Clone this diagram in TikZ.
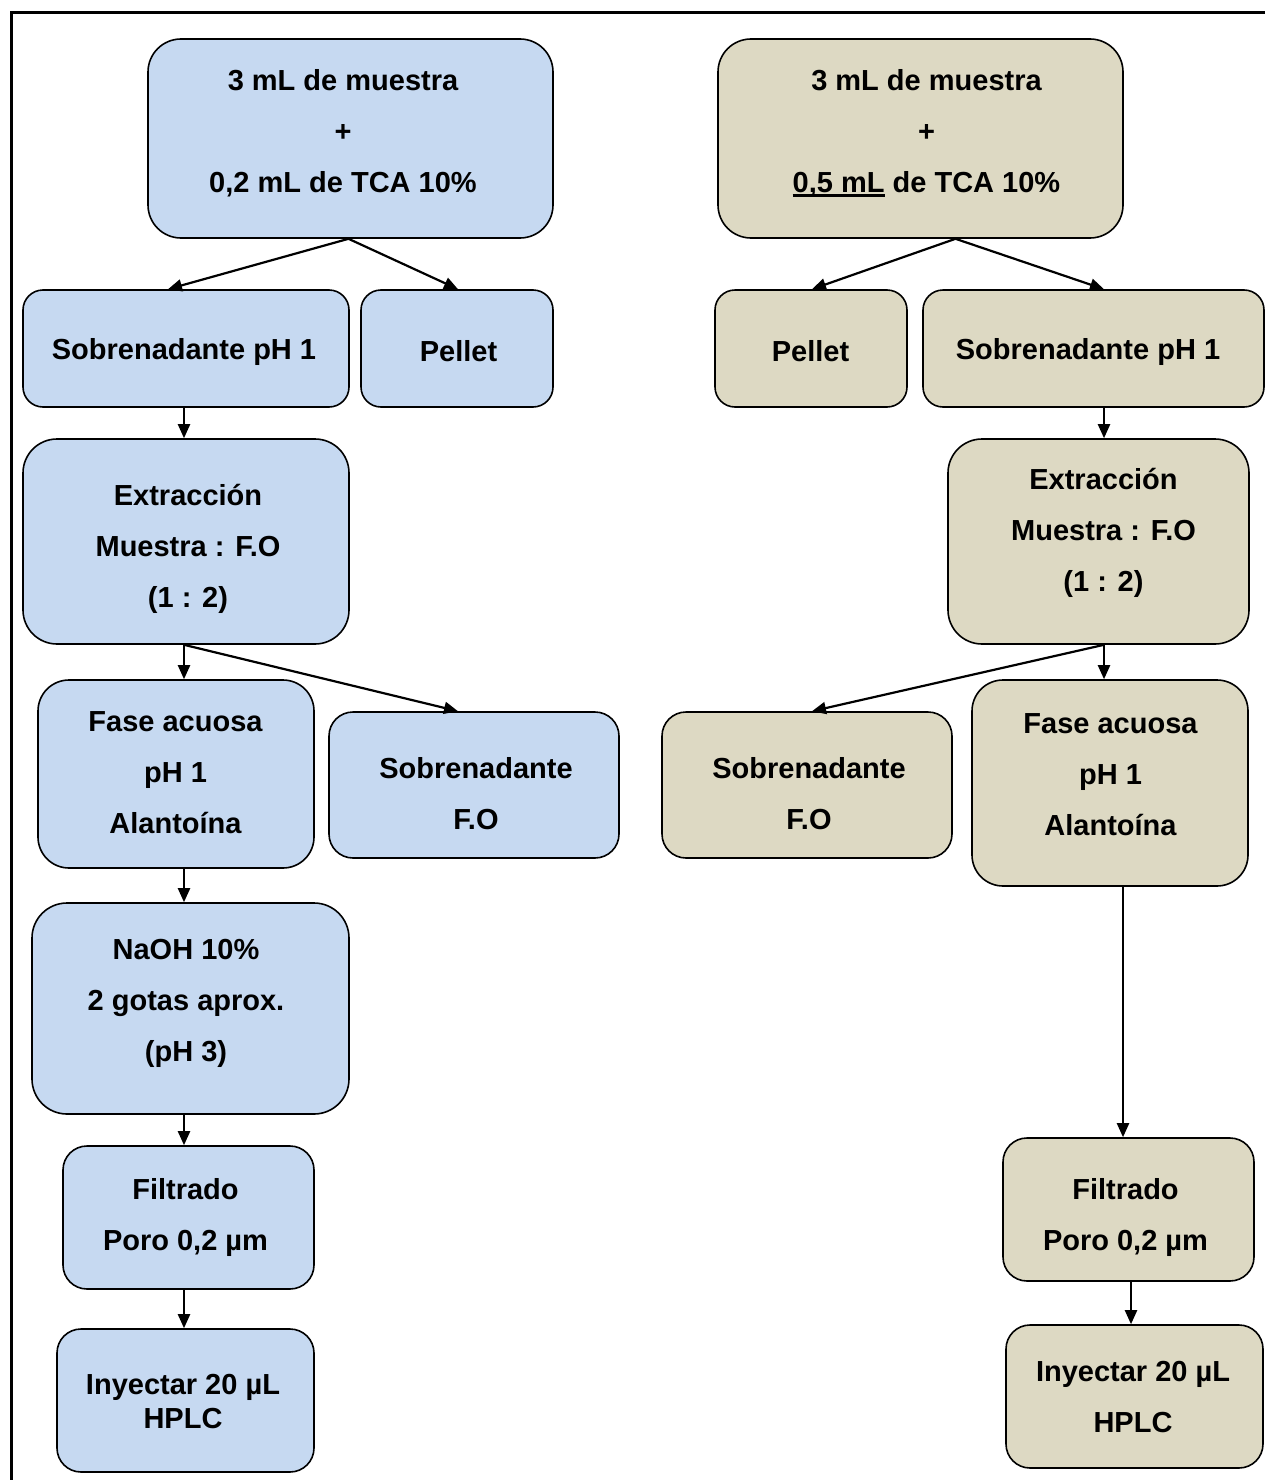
\documentclass[tikz,border=0pt]{standalone}
\usepackage{fontspec}
\setmainfont{Liberation Sans}
\usetikzlibrary{arrows.meta}
\definecolor{bluefill}{HTML}{C6D9F1}
\definecolor{tanfill}{HTML}{DDD9C3}
\newcommand\myul[1]{\setbox0\hbox{#1}\rlap{\rule[-5pt]{\wd0}{2.6pt}}\box0{}}
\tikzset{
  flowbox/.style={draw=black, line width=1.6pt, rounded corners=#1, inner sep=0pt},
  bluebox/.style={flowbox=#1, fill=bluefill},
  tanbox/.style={flowbox=#1, fill=tanfill},
  txt/.style={align=center, inner sep=0pt, font=\fontsize{29}{51}\selectfont\bfseries},
  conn/.style={line width=2.2pt, -{Triangle[length=14pt,width=12pt]}},
}
\begin{document}
\begin{tikzpicture}[x=1pt,y=-1pt]
\useasboundingbox (0,0) rectangle (1265,1480);
\draw[line width=3pt] (11.5,1490) -- (11.5,12.5) -- (1275,12.5);
% left column boxes
\node[bluebox=33pt, minimum width=405pt, minimum height=199pt] (b1) at (350.5,138.5) {};
\node[bluebox=20pt, minimum width=326pt, minimum height=117pt] (b2) at (186,348.5) {};
\node[bluebox=20pt, minimum width=192pt, minimum height=117pt] (b3) at (457,348.5) {};
\node[bluebox=34pt, minimum width=326pt, minimum height=205pt] (b4) at (186,541.5) {};
\node[bluebox=31pt, minimum width=276pt, minimum height=188pt] (b5) at (176,774) {};
\node[bluebox=24pt, minimum width=290pt, minimum height=146pt] (b6) at (474,785) {};
\node[bluebox=35pt, minimum width=317pt, minimum height=211pt] (b7) at (190.5,1008.5) {};
\node[bluebox=24pt, minimum width=251pt, minimum height=143pt] (b8) at (188.5,1217.5) {};
\node[bluebox=24pt, minimum width=257pt, minimum height=143pt] (b9) at (185.5,1400.5) {};
% right column boxes
\node[tanbox=33pt, minimum width=405pt, minimum height=199pt] (t1) at (920.5,138.5) {};
\node[tanbox=20pt, minimum width=192pt, minimum height=117pt] (t2) at (811,348.5) {};
\node[tanbox=20pt, minimum width=341pt, minimum height=117pt] (t3) at (1093.5,348.5) {};
\node[tanbox=34pt, minimum width=301pt, minimum height=205pt] (t4) at (1098.5,541.5) {};
\node[tanbox=24pt, minimum width=290pt, minimum height=146pt] (t5) at (807,785) {};
\node[tanbox=31pt, minimum width=276pt, minimum height=206pt] (t6) at (1110,783) {};
\node[tanbox=24pt, minimum width=251pt, minimum height=143pt] (t7) at (1128.5,1209.5) {};
\node[tanbox=24pt, minimum width=257pt, minimum height=143pt] (t8) at (1134.5,1396.5) {};
% texts
\node[txt] (b1t) at (343,133) {3 mL de muestra\\+\\0,2 mL de TCA 10\%};
\node[txt] (b2t) at (184,351.5) {Sobrenadante pH 1};
\node[txt] (b3t) at (458.5,351.5) {Pellet};
\node[txt] (b4t) at (188,548.5) {Extracción\\Muestra : F.O\\(1 : 2)};
\node[txt] (b5t) at (175.5,772.5) {Fase acuosa\\pH 1\\Alantoína};
\node[txt] (b6t) at (476,794) {Sobrenadante\\F.O};
\node[txt] (b7t) at (186,1003.5) {NaOH 10\%\\2 gotas aprox.\\(pH 3)};
\node[txt] (b8t) at (185.5,1217.5) {Filtrado\\Poro 0,2 µm};
\node[txt] (b9t) at (183,1401.5) {Inyectar 20 µL\\[-17pt]HPLC};
\node[txt] (t1t) at (926.5,133) {3 mL de muestra\\+\\\myul{0,5 mL} de TCA 10\%};
\node[txt] (t2t) at (810.5,351.5) {Pellet};
\node[txt] (t3t) at (1088,351.5) {Sobrenadante pH 1};
\node[txt] (t4t) at (1103.5,533) {Extracción\\Muestra : F.O\\(1 : 2)};
\node[txt] (t5t) at (809,794) {Sobrenadante\\F.O};
\node[txt] (t6t) at (1110.5,775) {Fase acuosa\\pH 1\\Alantoína};
\node[txt] (t7t) at (1125.5,1217.5) {Filtrado\\Poro 0,2 µm};
\node[txt] (t8t) at (1133,1397) {Inyectar 20 µL\\HPLC};
% left connectors
\draw[conn] ([xshift=-2pt]b1.south) -- ([xshift=-18pt]b2.north);
\draw[conn] ([xshift=-2pt]b1.south) -- ([xshift=1pt]b3.north);
\draw[conn] ([xshift=-2pt]b2.south) -- ([xshift=-2pt]b2.south |- b4.north);
\draw[conn] ([xshift=-2pt]b4.south) -- ([xshift=-2pt]b4.south |- b5.north);
\draw[conn] ([xshift=-2pt]b4.south) -- ([xshift=-16pt]b6.north);
\draw[conn] ([xshift=8pt]b5.south) -- ([xshift=8pt]b5.south |- b7.north);
\draw[conn] ([xshift=-6.5pt]b7.south) -- ([xshift=-6.5pt]b7.south |- b8.north);
\draw[conn] ([xshift=-4.5pt]b8.south) -- ([xshift=-4.5pt]b8.south |- b9.north);
% right connectors
\draw[conn] ([xshift=35pt]t1.south) -- ([xshift=1pt]t2.north);
\draw[conn] ([xshift=35pt]t1.south) -- ([xshift=10.5pt]t3.north);
\draw[conn] ([xshift=10.5pt]t3.south) -- ([xshift=10.5pt]t3.south |- t4.north);
\draw[conn] ([xshift=5.5pt]t4.south) -- ([xshift=5.5pt]t4.south |- t6.north);
\draw[conn] ([xshift=5.5pt]t4.south) -- ([xshift=5pt]t5.north);
\draw[conn] ([xshift=13pt]t6.south) -- ([xshift=13pt]t6.south |- t7.north);
\draw[conn] ([xshift=2.5pt]t7.south) -- ([xshift=2.5pt]t7.south |- t8.north);
\end{tikzpicture}
\end{document}
